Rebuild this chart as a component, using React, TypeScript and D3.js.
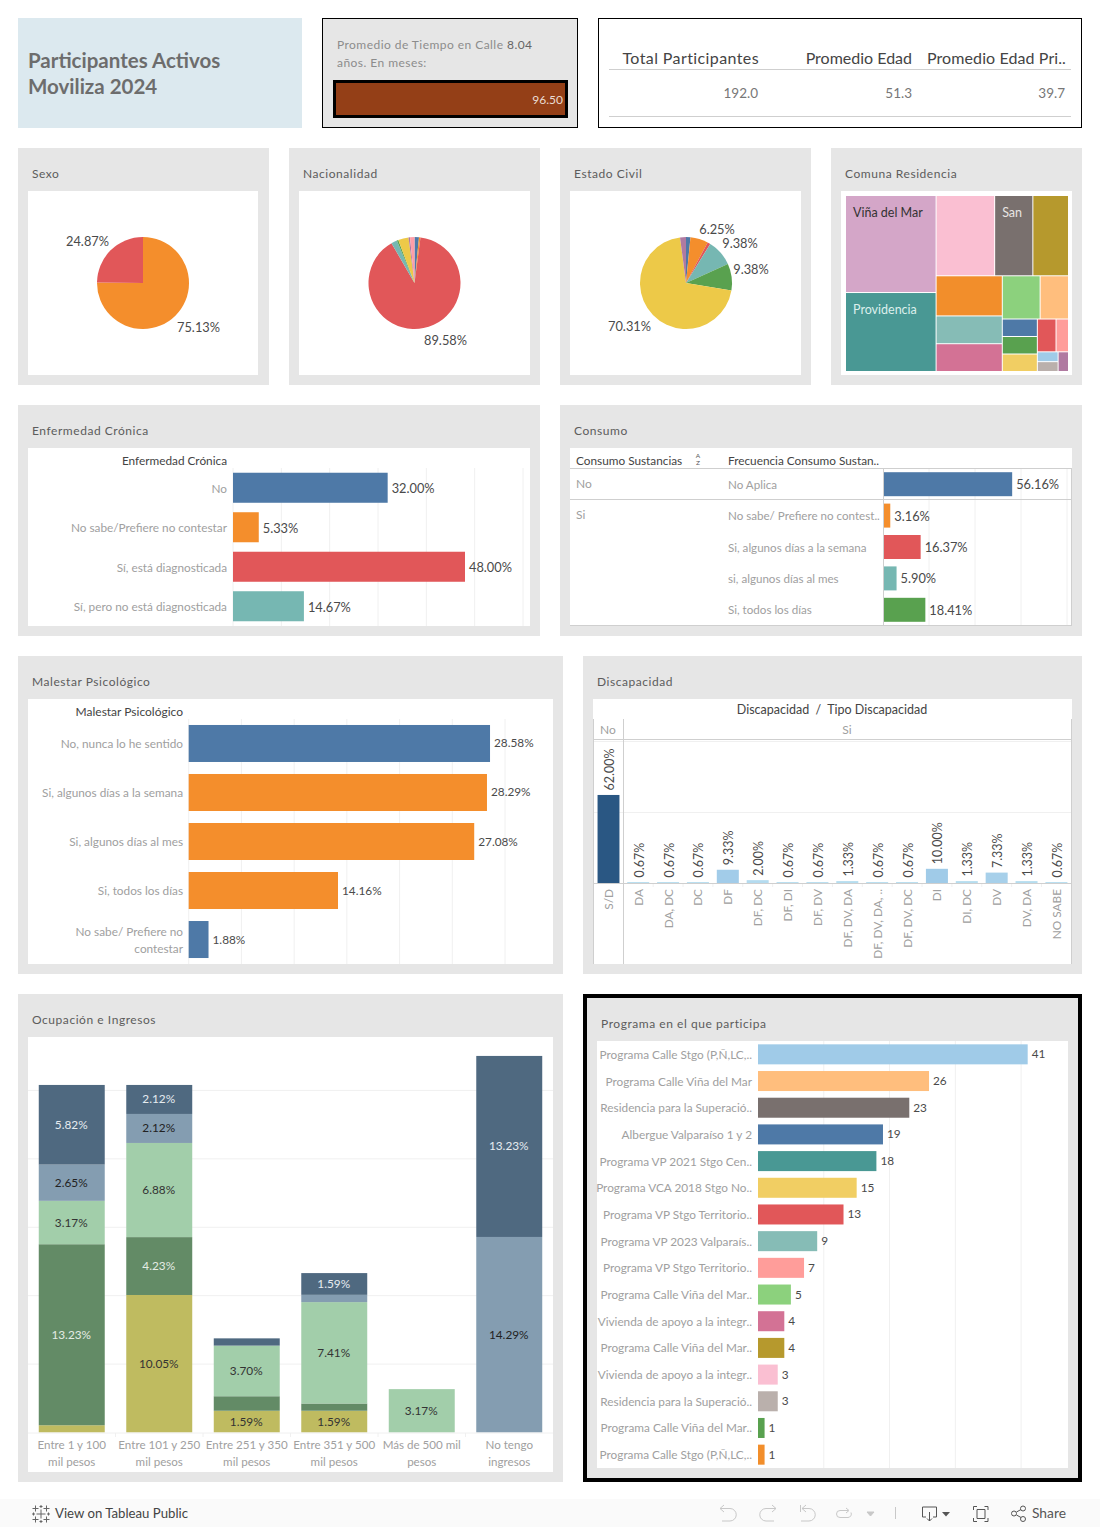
import * as d3 from "d3";

const FONT = "Lato, 'Open Sans', sans-serif";
const PANEL = "#e6e6e6";
const GRID = "#f0f0f0";
const RULE = "#cfcfcf";
const MUTED = "#a0a0a0";
const INK = "#4a4a4a";

const T_BLUE = "#4e79a7";
const T_ORANGE = "#f48e2c";
const T_RED = "#e15759";
const T_TEAL = "#76b7b2";
const T_GREEN = "#59a14f";
const T_YELLOW = "#edc948";
const T_PURPLE = "#b07aa1";
const T_PINK = "#ff9da7";

// Top row
const kpiHeaders = ["Total Participantes", "Promedio Edad", "Promedio Edad Pri.."];
const kpiValues = ["192.0", "51.3", "39.7"];

// Pies
const sexoValues = [75.13, 24.87];
const sexoColors = [T_ORANGE, T_RED];
const nacionalidadValues = [1.56, 0.52, 89.58, 2.08, 0.52, 3.65, 0.52, 1.56];
const nacionalidadColors = [T_BLUE, T_ORANGE, T_RED, T_TEAL, T_GREEN, T_YELLOW, T_PURPLE, T_PINK];
const civilValues = [1.56, 6.25, 1.04, 9.38, 9.38, 70.31, 2.08];
const civilColors = [T_BLUE, T_ORANGE, T_RED, T_TEAL, T_GREEN, T_YELLOW, T_PURPLE];

// Treemap: counts per comuna, split the same way as the picture
const comunaTree = {
  dir: "x",
  children: [
    {
      dir: "y",
      children: [
        { name: "Viña del Mar", value: 43, color: "#d4a6c8", text: "#333" },
        { name: "Providencia", value: 35, color: "#499894", text: "#dcefec" },
      ],
    },
    {
      dir: "y",
      children: [
        {
          dir: "x",
          children: [
            { value: 23, color: "#fabfd2" },
            { name: "San", value: 15, color: "#79706e", text: "#e8e4e2" },
            { value: 14, color: "#b6992d" },
          ],
        },
        {
          dir: "x",
          children: [
            {
              dir: "y",
              children: [
                { value: 13, color: "#f28e2b" },
                { value: 9, color: "#86bcb6" },
                { value: 9, color: "#d37295" },
              ],
            },
            {
              dir: "y",
              children: [
                {
                  dir: "x",
                  children: [
                    { value: 8, color: "#8cd17d" },
                    { value: 6, color: "#ffbe7d" },
                  ],
                },
                {
                  dir: "x",
                  children: [
                    {
                      dir: "y",
                      children: [
                        { value: 3, color: "#4e79a7" },
                        { value: 3, color: "#59a14f" },
                        { value: 3, color: "#f1ce63" },
                      ],
                    },
                    {
                      dir: "y",
                      children: [
                        {
                          dir: "x",
                          children: [
                            { value: 3, color: "#e15759" },
                            { value: 2, color: "#ff9d9a" },
                          ],
                        },
                        {
                          dir: "x",
                          children: [
                            {
                              dir: "y",
                              children: [
                                { value: 1, color: "#a0cbe8" },
                                { value: 1, color: "#bab0ac" },
                              ],
                            },
                            { value: 1, color: "#b07aa1" },
                          ],
                        },
                      ],
                    },
                  ],
                },
              ],
            },
          ],
        },
      ],
    },
  ],
};

// Enfermedad Crónica
const cronicaCats = ["No", "No sabe/Prefiere no contestar", "Sí, está diagnosticada", "Sí, pero no está diagnosticada"];
const cronicaValues = [32.0, 5.33, 48.0, 14.67];
const cronicaColors = [T_BLUE, T_ORANGE, T_RED, T_TEAL];

// Consumo
const consumoCats = ["No Aplica", "No sabe/ Prefiere no contest..", "Si, algunos días a la semana", "si, algunos días al mes", "Si, todos los días"];
const consumoValues = [56.16, 3.16, 16.37, 5.9, 18.41];
const consumoColors = [T_BLUE, T_ORANGE, T_RED, T_TEAL, T_GREEN];

// Malestar Psicológico
const malestarCats = ["No, nunca lo he sentido", "Si, algunos días a la semana", "Si, algunos días al mes", "Si, todos los días", "No sabe/ Prefiere no|contestar"];
const malestarValues = [28.58, 28.29, 27.08, 14.16, 1.88];
const malestarColors = [T_BLUE, T_ORANGE, T_ORANGE, T_ORANGE, T_BLUE];

// Discapacidad
const discNoCats = ["S/D"];
const discNoValues = [62.0];
const discSiCats = ["DA", "DA, DC", "DC", "DF", "DF, DC", "DF, DI", "DF, DV", "DF, DV, DA", "DF, DV, DA, ..", "DF, DV, DC", "DI", "DI, DC", "DV", "DV, DA", "NO SABE"];
const discSiValues = [0.67, 0.67, 0.67, 9.33, 2.0, 0.67, 0.67, 1.33, 0.67, 0.67, 10.0, 1.33, 7.33, 1.33, 0.67];

// Ocupación e Ingresos
const ingresoCats = ["Entre 1 y 100|mil pesos", "Entre 101 y 250|mil pesos", "Entre 251 y 350|mil pesos", "Entre 351 y 500|mil pesos", "Más de 500 mil|pesos", "No tengo|ingresos"];
const ocupacionKeys = ["olive", "moss", "mint", "slate", "navy"];
const ocupacionColors = ["#bfbb60", "#638b66", "#a2ceaa", "#849db1", "#4f6980"];
const ocupacionText = ["#333", "#e4ece4", "#333", "#222", "#e6ecf0"];
const oliveValues = [0.53, 10.05, 1.59, 1.59, 0, 0];
const mossValues = [13.23, 4.23, 1.06, 0.53, 0, 0];
const mintValues = [3.17, 6.88, 3.7, 7.41, 3.17, 0];
const slateValues = [2.65, 2.12, 0, 0.53, 0, 14.29];
const navyValues = [5.82, 2.12, 0.53, 1.59, 0, 13.23];

// Programa en el que participa
const programaCats = [
  "Programa Calle Stgo (P,Ñ,LC,..",
  "Programa Calle Viña del Mar",
  "Residencia para la Superació..",
  "Albergue Valparaíso 1 y 2",
  "Programa VP 2021 Stgo Cen..",
  "Programa VCA 2018 Stgo No..",
  "Programa VP Stgo Territorio..",
  "Programa VP 2023 Valparaís..",
  "Programa VP Stgo Territorio..",
  "Programa Calle Viña del Mar..",
  "Vivienda de apoyo a la integr..",
  "Programa Calle Viña del Mar..",
  "Vivienda de apoyo a la integr..",
  "Residencia para la Superació..",
  "Programa Calle Viña del Mar..",
  "Programa Calle Stgo (P,Ñ,LC,..",
];
const programaValues = [41, 26, 23, 19, 18, 15, 13, 9, 7, 5, 4, 4, 3, 3, 1, 1];
const programaColors = ["#a0cbe8", "#ffbe7d", "#79706e", "#4e79a7", "#499894", "#f1ce63", "#e15759", "#86bcb6", "#ff9d9a", "#8cd17d", "#d37295", "#b6992d", "#fabfd2", "#bab0ac", "#59a14f", "#f28e2b"];

const pct = (v: number) => `${v.toFixed(2)}%`;

const Panel = ({ x, y, w, h, title, inner }: any) => (
  <g>
    <rect x={x} y={y} width={w} height={h} fill={PANEL} />
    <rect x={inner[0]} y={inner[1]} width={inner[2] - inner[0]} height={inner[3] - inner[1]} fill="#fff" />
    <text x={x + 14} y={y + 30} fontSize={12} fill="#5c5c5c" letterSpacing={0.55}>
      {title}
    </text>
  </g>
);

// cx/cy from the layout, labels are offsets of the label's middle from the pie centre
const Pie = ({ cx, cy, values, colors, labels }: any) => {
  const slices = d3.pie<number>().sort(null)(values);
  const arc = d3.arc<d3.PieArcDatum<number>>().innerRadius(0).outerRadius(46);
  return (
    <g transform={`translate(${cx},${cy})`}>
      {slices.map((s, i) => (
        <path key={i} d={arc(s) as string} fill={colors[i]} />
      ))}
      {labels.map((l: any, i: number) => (
        <text key={i} x={l[0]} y={l[1] + 5} textAnchor="middle" fontSize={12.8} fill={INK}>
          {pct(values[l[2]])}
        </text>
      ))}
    </g>
  );
};

const Treemap = ({ x, y, w, h }: any) => {
  const root = d3.hierarchy<any>(comunaTree).sum((d) => d.value || 0);
  d3
    .treemap<any>()
    .size([w, h])
    .paddingInner(1)
    .tile((node: any, x0, y0, x1, y1) =>
      (node.data.dir === "x" ? d3.treemapDice : d3.treemapSlice)(node, x0, y0, x1, y1)
    )(root);
  return (
    <g transform={`translate(${x},${y})`}>
      {root.leaves().map((d: any, i) => (
        <g key={i}>
          <rect x={d.x0} y={d.y0} width={d.x1 - d.x0} height={d.y1 - d.y0} fill={d.data.color} />
          {d.data.name && (
            <text x={d.x0 + 7} y={d.y0 + 21} fontSize={12.5} fill={d.data.text}>
              {d.data.name}
            </text>
          )}
        </g>
      ))}
    </g>
  );
};

const HBars = ({ cats, values, colors, xS, yS, labelX, anchor, fmt, gridTop, gridBottom, ticks, valueSize, valueDy, labelSize, labelDy }: any) => (
  <g>
    {ticks.map((t: number) => (
      <line key={t} x1={xS(t)} x2={xS(t)} y1={gridTop} y2={gridBottom} stroke={GRID} />
    ))}
    {cats.map((c: string, i: number) => {
      const mid = yS(i) + yS.bandwidth() / 2;
      const lines = c.split("|");
      return (
        <g key={i}>
          <rect x={xS(0)} y={yS(i)} width={xS(values[i]) - xS(0)} height={yS.bandwidth()} fill={colors[i]} />
          {lines.map((l, j) => (
            <text
              key={j}
              x={labelX}
              y={mid + labelDy + (j - (lines.length - 1) / 2) * 17}
              textAnchor={anchor}
              fontSize={labelSize}
              fill={MUTED}
            >
              {l}
            </text>
          ))}
          <text x={xS(values[i]) + 4} y={mid + valueDy} fontSize={valueSize} fill={INK}>
            {fmt(values[i])}
          </text>
        </g>
      );
    })}
  </g>
);

const Kpis = () => {
  const headerEnds = [759, 912, 1066];
  const headerSpacing = [0.4, 0, 0.1];
  const valueEnds = [758, 912, 1065];
  return (
    <g>
      <rect x={598.5} y={18.5} width={483} height={109} fill="#fff" stroke="#000" />
      {kpiHeaders.map((h, i) => (
        <text key={h} x={headerEnds[i]} y={64} textAnchor="end" fontSize={16} fill="#444" letterSpacing={headerSpacing[i]}>
          {h}
        </text>
      ))}
      <line x1={609} x2={1071} y1={69.5} y2={69.5} stroke={RULE} />
      {kpiValues.map((v, i) => (
        <text key={v} x={valueEnds[i]} y={98} textAnchor="end" fontSize={13.5} fill="#777">
          {v}
        </text>
      ))}
      <line x1={609} x2={1071} y1={116.5} y2={116.5} stroke={RULE} />
    </g>
  );
};

const Enfermedad = () => {
  const xS = d3.scaleLinear().domain([0, 60]).range([233, 523]);
  const yS = d3.scaleBand<number>().domain(d3.range(cronicaCats.length)).range([468, 626]).paddingInner(0.24).paddingOuter(0.12);
  return (
    <g>
      <Panel x={18} y={405} w={522} h={231} title="Enfermedad Crónica" inner={[28, 448, 530, 626]} />
      <text x={227} y={465} textAnchor="end" fontSize={11.8} fill="#444">Enfermedad Crónica</text>
      <HBars cats={cronicaCats} values={cronicaValues} colors={cronicaColors} xS={xS} yS={yS} labelX={227} anchor="end" fmt={pct} gridTop={468} gridBottom={626} ticks={d3.range(0, 61, 10)} valueSize={12.8} valueDy={5.5} labelSize={11.8} labelDy={5} />
    </g>
  );
};

const Consumo = () => {
  const xS = d3.scaleLinear().domain([0, 80]).range([883, 1067]);
  const yS = d3.scaleBand<number>().domain(d3.range(consumoCats.length)).range([468.5, 625.5]).paddingInner(0.236).paddingOuter(0.118);
  return (
    <g>
      <Panel x={560} y={405} w={522} h={231} title="Consumo" inner={[570, 448, 1072, 626]} />
      <text x={576} y={465} fontSize={11.8} fill="#444">Consumo Sustancias</text>
      <text x={698} y={458} textAnchor="middle" fontSize={6.5} fill="#555">A</text>
      <text x={698} y={465} textAnchor="middle" fontSize={6.5} fill="#555">Z</text>
      <text x={728} y={465} fontSize={11.8} fill="#444">Frecuencia Consumo Sustan..</text>
      <HBars cats={consumoCats} values={consumoValues} colors={consumoColors} xS={xS} yS={yS} labelX={728} anchor="start" fmt={pct} gridTop={469} gridBottom={625} ticks={d3.range(20, 81, 20)} valueSize={12.8} valueDy={5} labelSize={11.6} labelDy={4.5} />
      <text x={576} y={488} fontSize={12} fill={MUTED}>No</text>
      <text x={576} y={519} fontSize={12} fill={MUTED}>Si</text>
      <line x1={570} x2={1072} y1={468.5} y2={468.5} stroke={RULE} />
      <line x1={570} x2={1072} y1={499.5} y2={499.5} stroke={RULE} />
      <line x1={570} x2={1072} y1={625.5} y2={625.5} stroke={RULE} />
      <line x1={883.5} x2={883.5} y1={468} y2={626} stroke={RULE} />
      <line x1={1071.5} x2={1071.5} y1={468} y2={626} stroke={RULE} />
    </g>
  );
};

const Malestar = () => {
  const xS = d3.scaleLinear().domain([0, 30]).range([188.7, 505]);
  const yS = d3.scaleBand<number>().domain(d3.range(malestarCats.length)).range([719, 964]).paddingInner(0.245).paddingOuter(0.122);
  return (
    <g>
      <Panel x={18} y={656} w={545} h={318} title="Malestar Psicológico" inner={[28, 699, 553, 964]} />
      <text x={183} y={716} textAnchor="end" fontSize={12} fill="#444">Malestar Psicológico</text>
      <HBars cats={malestarCats} values={malestarValues} colors={malestarColors} xS={xS} yS={yS} labelX={183} anchor="end" fmt={pct} gridTop={719} gridBottom={964} ticks={d3.range(0, 31, 5)} valueSize={11.8} valueDy={4} labelSize={11.8} labelDy={4.5} />
    </g>
  );
};

const Discapacidad = () => {
  const yS = d3.scaleLinear().domain([0, 100]).range([883, 741]);
  const xNo = d3.scaleBand<number>().domain(d3.range(discNoCats.length)).range([593.7, 623.3]).paddingInner(0.26).paddingOuter(0.13);
  const xSi = d3.scaleBand<number>().domain(d3.range(discSiCats.length)).range([623.3, 1071.3]).paddingInner(0.263).paddingOuter(0.13);
  const color = d3.scaleLinear<string>().domain([0.67, 10, 62]).range(["#b7def0", "#a0cbe8", "#2a5783"]);
  const columns = [
    { cats: discNoCats, values: discNoValues, xS: xNo },
    { cats: discSiCats, values: discSiValues, xS: xSi },
  ];
  return (
    <g>
      <Panel x={583} y={656} w={499} h={318} title="Discapacidad" inner={[593, 699, 1072, 964]} />
      <text x={832} y={714} textAnchor="middle" fontSize={12.5} fill="#444" style={{ whiteSpace: "pre" }}>Discapacidad  /  Tipo Discapacidad</text>
      <text x={608} y={734} textAnchor="middle" fontSize={12} fill={MUTED}>No</text>
      <text x={847} y={734} textAnchor="middle" fontSize={12} fill={MUTED}>Si</text>
      {yS.ticks(2).filter((t) => t > 0).map((t) => (
        <line key={t} x1={594} x2={1071} y1={yS(t) + 0.5} y2={yS(t) + 0.5} stroke={GRID} />
      ))}
      {columns.map(({ cats, values, xS }, k) =>
        cats.map((c, i) => {
          const cx = (xS(i) as number) + xS.bandwidth() / 2;
          return (
            <g key={`${k}-${i}`}>
              <rect x={xS(i)} y={yS(values[i])} width={xS.bandwidth()} height={yS(0) - yS(values[i])} fill={color(values[i])} />
              <text transform={`translate(${cx + 5.5},${yS(values[i]) - 4.5}) rotate(-90)`} fontSize={12.5} fill={INK}>
                {pct(values[i])}
              </text>
              <text transform={`translate(${cx + 4.5},889) rotate(-90)`} textAnchor="end" fontSize={11.8} fill={MUTED}>
                {c}
              </text>
              {k === 1 && i > 0 && <line x1={(xS(i) as number) - xS.step() * 0.13} x2={(xS(i) as number) - xS.step() * 0.13} y1={883} y2={887} stroke={GRID} />}
            </g>
          );
        })
      )}
      <line x1={594} x2={1071} y1={883.5} y2={883.5} stroke={RULE} />
      <line x1={593} x2={1072} y1={739.5} y2={739.5} stroke={RULE} />
      <line x1={593.5} x2={593.5} y1={719} y2={964} stroke={RULE} />
      <line x1={623.5} x2={623.5} y1={719} y2={964} stroke={RULE} />
      <line x1={1071.5} x2={1071.5} y1={719} y2={964} stroke={RULE} />
    </g>
  );
};

const Ocupacion = () => {
  const xS = d3.scaleBand<number>().domain(d3.range(ingresoCats.length)).range([28, 553]).paddingInner(0.246).paddingOuter(0.123);
  const yS = d3.scaleLinear().domain([0, 30]).range([1432.5, 1022]);
  const rows = ingresoCats.map((_, i) => ({
    olive: oliveValues[i],
    moss: mossValues[i],
    mint: mintValues[i],
    slate: slateValues[i],
    navy: navyValues[i],
  }));
  const series = d3.stack<any>().keys(ocupacionKeys)(rows);
  return (
    <g>
      <Panel x={18} y={994} w={545} h={488} title="Ocupación e Ingresos" inner={[28, 1037, 553, 1472]} />
      {d3.range(5, 26, 5).map((t) => (
        <line key={t} x1={28} x2={553} y1={yS(t)} y2={yS(t)} stroke={GRID} />
      ))}
      {series.map((s, k) =>
        s.map((d, i) => {
          const v = d[1] - d[0];
          if (v <= 0) return null;
          const bx = xS(i) as number;
          return (
            <g key={`${k}-${i}`}>
              <rect x={bx} y={yS(d[1])} width={xS.bandwidth()} height={yS(d[0]) - yS(d[1])} fill={ocupacionColors[k]} />
              {v > 1.5 && (
                <text x={bx + xS.bandwidth() / 2 - 0.5} y={(yS(d[0]) + yS(d[1])) / 2 + 4} textAnchor="middle" fontSize={11.8} fill={ocupacionText[k]}>
                  {pct(v)}
                </text>
              )}
            </g>
          );
        })
      )}
      <line x1={28} x2={553} y1={1433} y2={1433} stroke={GRID} />
      {ingresoCats.map((c, i) => {
        const cx = (xS(i) as number) + xS.bandwidth() / 2;
        return (
          <g key={c}>
            {i > 0 && <line x1={cx - xS.step() / 2} x2={cx - xS.step() / 2} y1={1433} y2={1437} stroke={GRID} />}
            {c.split("|").map((l, j) => (
              <text key={j} x={cx} y={1449 + j * 17} textAnchor="middle" fontSize={11.6} fill={MUTED}>
                {l}
              </text>
            ))}
          </g>
        );
      })}
    </g>
  );
};

const Programa = () => {
  const xS = d3.scaleLinear().domain([0, 45]).range([758, 1054]);
  const yS = d3.scaleBand<number>().domain(d3.range(programaCats.length)).range([1041, 1468]).paddingInner(0.25).paddingOuter(0.125);
  return (
    <g>
      <rect x={585} y={996} width={495} height={484} fill={PANEL} stroke="#000" strokeWidth={4} />
      <rect x={597} y={1041} width={471} height={427} fill="#fff" />
      <text x={601} y={1028} fontSize={12} fill="#5c5c5c" letterSpacing={0.55}>Programa en el que participa</text>
      <HBars cats={programaCats} values={programaValues} colors={programaColors} xS={xS} yS={yS} labelX={752} anchor="end" fmt={(v: number) => `${v}`} gridTop={1041} gridBottom={1468} ticks={d3.range(10, 41, 10)} valueSize={11.8} valueDy={4} labelSize={11.8} labelDy={4.5} />
    </g>
  );
};

// Tableau logo, built from plus signs
const logoPluses = [
  [41, 1514, 4.5],
  [35.5, 1508.5, 3],
  [46.5, 1508.5, 3],
  [35.5, 1519.5, 3],
  [46.5, 1519.5, 3],
  [41, 1506.5, 1.5],
  [41, 1521.5, 1.5],
  [33.5, 1514, 1.5],
  [48.5, 1514, 1.5],
];

const Footer = () => (
  <g>
    <rect x={0} y={1499} width={1100} height={28} fill="#fafafa" />
    <g stroke="#666" fill="none">
      {logoPluses.map(([x, y, r], i) => (
        <path key={i} d={`M${x - r} ${y}h${2 * r}M${x} ${y - r}v${2 * r}`} />
      ))}
    </g>
    <text x={55} y={1518} fontSize={13.2} fill="#444">View on Tableau Public</text>
    <g stroke="#c8c8c8" fill="none">
      <path d="M720 1508.5h10a6 6 0 0 1 0 12.500h-8M724 1505l-4 3.500 4 3.500" />
      <path d="M776 1508.500h-10a6 6 0 0 0 0 12.500h8M772 1505l4 3.500-4 3.500" />
      <path d="M800.500 1505v7M802 1508.500h7a6 6 0 0 1 0 12.500h-8M806 1505l-4 3.500 4 3.500" />
      <path d="M848 1510.500h-8a3.500 3.500 0 0 0 0 7h8a3.500 3.500 0 0 0 3-5M846 1508l3 2.500-3 2.500" />
      <path d="M867 1512h7l-3.500 4z" fill="#c8c8c8" />
      <path d="M895.500 1507v12" />
    </g>
    <g stroke="#555" fill="none">
      <path d="M926 1517h-3.500v-10h14v10h-3.500M929.500 1512v9M927 1518.500l2.500 2.500 2.500-2.500" />
      <path d="M942 1512h8l-4 4.500z" fill="#555" stroke="none" />
      <path d="M973.500 1510v-3.500h3.500M984.500 1506.500h3.500v3.500M988 1518v3.500h-3.500M977 1521.500h-3.500v-3.500M977 1509.500h8v9h-8z" />
      <circle cx={1014} cy={1513.5} r={2.5} />
      <circle cx={1023} cy={1508.5} r={2.5} />
      <circle cx={1023} cy={1519} r={2.5} />
      <path d="M1016.500 1512l4.500-2.500M1016.500 1515l4.500 2.500" />
    </g>
    <text x={1032} y={1518} fontSize={13.8} fill="#555">Share</text>
  </g>
);

export default function App() {
  return (
    <svg
      width={1100}
      height={1527}
      style={{ position: "absolute", left: 0, top: 0, fontFamily: FONT, background: "#fff" }}
    >
      <rect x={18} y={18} width={284} height={110} fill="#dce9ef" />
      <text x={28} y={68} fontSize={20.5} fontWeight={700} fill="#6d6d6d">Participantes Activos</text>
      <text x={28} y={94} fontSize={20.5} fontWeight={700} fill="#6d6d6d">Moviliza 2024</text>

      <rect x={322.5} y={18.5} width={255} height={109} fill={PANEL} stroke="#000" />
      <text x={337} y={49} fontSize={12} fill="#8c8c8c" letterSpacing={0.45}>
        Promedio de Tiempo en Calle <tspan fill="#666">8.04</tspan>
      </text>
      <text x={337} y={67} fontSize={12} fill="#8c8c8c" letterSpacing={0.45}>años. En meses:</text>
      <rect x={334.5} y={81.5} width={232} height={35} fill="#943f17" stroke="#000" strokeWidth={3} />
      <text x={563} y={104} textAnchor="end" fontSize={12} fill="#eadcd3">96.50</text>

      <Kpis />

      <Panel x={18} y={148} w={251} h={237} title="Sexo" inner={[28, 191, 258, 375]} />
      <Panel x={289} y={148} w={251} h={237} title="Nacionalidad" inner={[299, 191, 530, 375]} />
      <Panel x={560} y={148} w={251} h={237} title="Estado Civil" inner={[570, 191, 801, 375]} />
      <Panel x={831} y={148} w={251} h={237} title="Comuna Residencia" inner={[841, 191, 1072, 375]} />

      <Pie cx={143} cy={283} values={sexoValues} colors={sexoColors} labels={[[-55.5, -42, 1], [55.5, 44, 0]]} />
      <Pie cx={414.5} cy={283} values={nacionalidadValues} colors={nacionalidadColors} labels={[[31, 57, 2]]} />
      <Pie cx={686} cy={283} values={civilValues} colors={civilColors} labels={[[31, -54, 1], [54, -40, 3], [65, -14, 4], [-56.5, 43, 5]]} />
      <Treemap x={846} y={196} w={222} h={175} />

      <Enfermedad />
      <Consumo />
      <Malestar />
      <Discapacidad />
      <Ocupacion />
      <Programa />
      <Footer />
    </svg>
  );
}
